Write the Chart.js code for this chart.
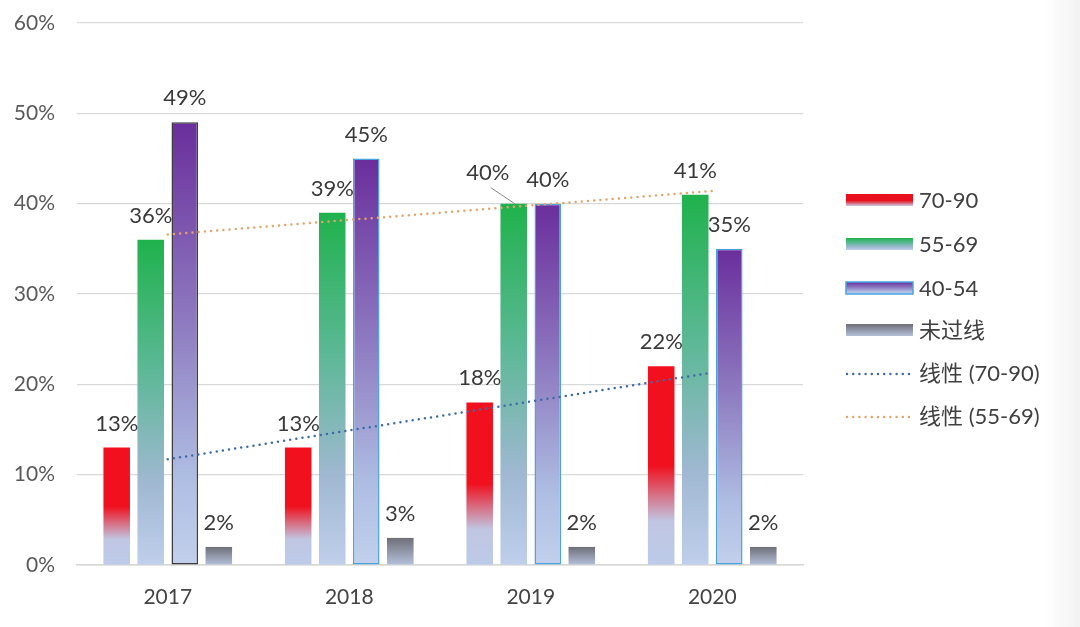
<!DOCTYPE html>
<html><head><meta charset="utf-8">
<script src="https://cdn.jsdelivr.net/npm/chart.js@4/dist/chart.umd.min.js"></script>
<style>
html,body{margin:0;padding:0;width:1080px;height:627px;overflow:hidden;
background:linear-gradient(to right,#ffffff 0,#ffffff 1045px,#f2f2f2 1080px);}
#wrap{position:absolute;left:0;top:0;width:1080px;height:627px;}
</style></head>
<body><div id="wrap"><canvas id="c" width="1080" height="627"></canvas></div>
<script>
const categories = ['2017','2018','2019','2020'];
const s7090 = [13, 13, 18, 22];
const s5569 = [36, 39, 40, 41];
const s4054 = [49, 45, 40, 35];
const sFail = [2, 3, 2, 2];
const trend7090 = [11.7, 14.9, 18.1, 21.3];
const trend5569 = [36.6, 38.2, 39.8, 41.4];
const yTickValues = [0, 10, 20, 30, 40, 50, 60];
const seriesNames = ['70-90', '55-69', '40-54', '未过线', '线性 (70-90)', '线性 (55-69)'];

const FONT = 'Lato, "Noto Sans CJK SC", sans-serif';
const stopsRed = [[0,'#f2101e'],[0.5,'#f0101e'],[0.78,'#c0c6e2'],[1,'#bccbe9']];
const stopsGreen = [[0,'#1fb24c'],[0.4,'#5cb896'],[0.75,'#a0b8d2'],[1,'#c0cfeb']];
const stopsPurple = [[0,'#6a2e9c'],[0.45,'#8e7ac0'],[0.8,'#aebde2'],[1,'#c2d0ec']];
const stopsGray = [[0,'#6f6f78'],[1,'#b4c0da']];

function grad(stops){
  return function(ctx){
    const chart = ctx.chart;
    if(!chart.chartArea || ctx.type !== 'data') return stops[0][1];
    const y = chart.scales.y;
    const top = y.getPixelForValue(ctx.raw);
    const base = y.getPixelForValue(0);
    const g = chart.ctx.createLinearGradient(0, top, 0, base);
    stops.forEach(s => g.addColorStop(s[0], s[1]));
    return g;
  };
}

const labelPlugin = {
  id: 'barLabels',
  afterDatasetsDraw(chart){
    const c = chart.ctx;
    c.save();
    c.font = '22px ' + FONT;
    c.fillStyle = '#3a3a3a';
    c.textAlign = 'center';
    c.textBaseline = 'middle';
    for(let d = 0; d < 4; d++){
      const meta = chart.getDatasetMeta(d);
      meta.data.forEach((el, i) => {
        const v = chart.data.datasets[d].data[i];
        let x = el.x, y = el.y - 24;
        if(d === 1 && i === 2){
          x = el.x - 26; y = el.y - 31;
          c.save();
          c.strokeStyle = '#8a8a8a'; c.lineWidth = 1;
          c.beginPath(); c.moveTo(x + 3, y + 15); c.lineTo(el.x + 1, el.y); c.stroke();
          c.restore();
        }
        c.fillText(v + '%', x, y);
      });
    }
    c.restore();
  }
};

const legendPlugin = {
  id: 'customLegend',
  afterDraw(chart){
    const c = chart.ctx;
    const x0 = 846, w = 67, tx = 919;
    const ys = [200, 244, 288, 330, 373, 416];
    const stopsList = [stopsRed, stopsGreen, stopsPurple, stopsGray];
    c.save();
    c.font = '22px ' + FONT;
    c.textBaseline = 'middle';
    c.textAlign = 'left';
    for(let k = 0; k < 6; k++){
      const y = ys[k];
      if(k < 4){
        const h = 12;
        const g = c.createLinearGradient(0, y - h/2, 0, y + h/2);
        const st = k === 0 ? [[0,'#e8101e'],[0.55,'#e8101e'],[1,'#c8cce4']] : stopsList[k];
        st.forEach(s => g.addColorStop(s[0], s[1]));
        c.fillStyle = g;
        c.fillRect(x0, y - h/2, w, h);
        if(k === 2){
          c.strokeStyle = '#4aa3df'; c.lineWidth = 1.5;
          c.strokeRect(x0, y - h/2, w, h);
        }
      } else {
        c.save();
        c.strokeStyle = k === 4 ? '#3e6aa8' : '#e3a46a';
        c.lineWidth = 2.5; c.lineCap = 'round';
        c.setLineDash([0, 6.2]);
        c.beginPath(); c.moveTo(x0 + 1, y + 1); c.lineTo(x0 + 63, y + 1); c.stroke();
        c.restore();
      }
      c.fillStyle = '#404040';
      c.fillText(seriesNames[k], tx, y + 1);
    }
    c.restore();
  }
};

const ctxEl = document.getElementById('c');
new Chart(ctxEl, {
  data: {
    labels: categories,
    datasets: [
      {type:'bar', label: seriesNames[0], data: s7090, order: 1, backgroundColor: grad(stopsRed), borderWidth: 0},
      {type:'bar', label: seriesNames[1], data: s5569, order: 1, backgroundColor: grad(stopsGreen), borderWidth: 0},
      {type:'bar', label: seriesNames[2], data: s4054, order: 1, backgroundColor: grad(stopsPurple),
        borderColor: ['#3c3c40','#4aa3df','#4aa3df','#4aa3df'], borderWidth: 1.5, borderSkipped: false},
      {type:'bar', label: seriesNames[3], data: sFail, order: 1, backgroundColor: grad(stopsGray), borderWidth: 0},
      {type:'line', label: seriesNames[4], data: trend7090, order: 0, borderColor: '#3e6aa8', borderWidth: 2.5,
        borderDash: [0, 6.2], borderCapStyle: 'round', pointRadius: 0, fill: false, tension: 0},
      {type:'line', label: seriesNames[5], data: trend5569, order: 0, borderColor: '#e3a46a', borderWidth: 2.5,
        borderDash: [0, 6.2], borderCapStyle: 'round', pointRadius: 0, fill: false, tension: 0}
    ]
  },
  options: {
    responsive: false,
    animation: false,
    events: [],
    layout: {padding: {left: 0, right: 277, top: 23, bottom: 0}},
    datasets: {bar: {categoryPercentage: 0.75, barPercentage: 0.78, grouped: true}},
    plugins: {legend: {display: false}, tooltip: {enabled: false}, title: {display: false}},
    scales: {
      x: {
        grid: {display: false, drawTicks: false},
        border: {display: true, color: '#d6d6d6', width: 1.5},
        ticks: {font: {size: 21, family: FONT}, color: '#444444', padding: 20},
        afterFit(s){ s.height = 62; s.paddingLeft = 0; s.paddingRight = 0; }
      },
      y: {
        min: 0, max: 60,
        afterBuildTicks(s){ s.ticks = yTickValues.map(v => ({value: v})); },
        grid: {color: '#d9d9d9', lineWidth: 1.2, drawTicks: false},
        border: {display: false},
        ticks: {font: {size: 21, family: FONT}, color: '#5a5a5a', padding: 22,
          callback: v => v + '%'},
        afterFit(s){ s.width = 77; s.paddingTop = 0; s.paddingBottom = 0; }
      }
    }
  },
  plugins: [labelPlugin, legendPlugin]
});
</script>
</body></html>
